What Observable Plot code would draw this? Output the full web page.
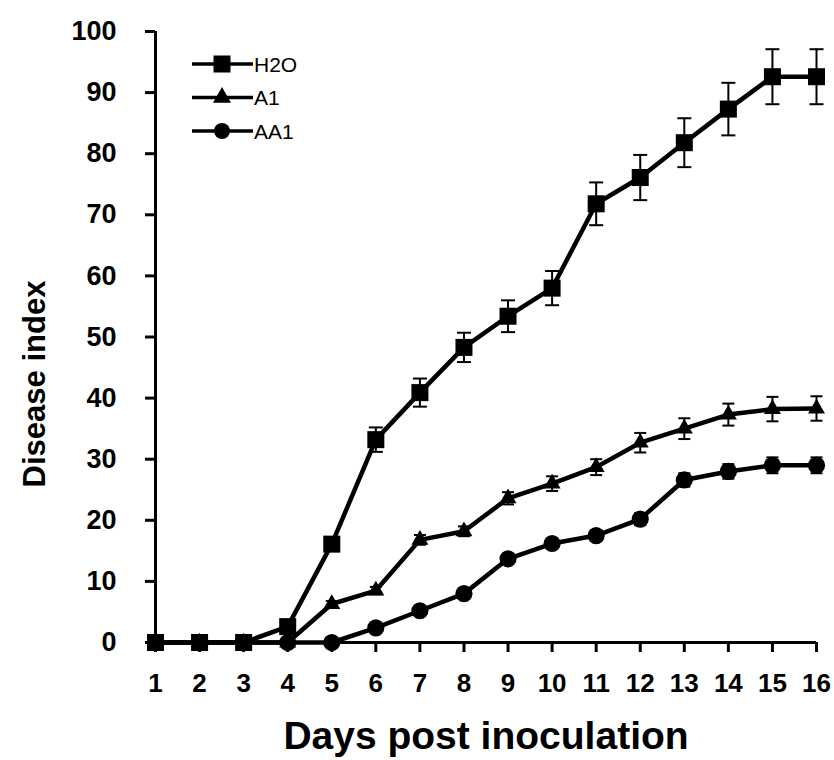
<!DOCTYPE html>
<html>
<head>
<meta charset="utf-8">
<script src="https://cdn.jsdelivr.net/npm/d3@7"></script>
<script src="https://cdn.jsdelivr.net/npm/@observablehq/plot@0.6"></script>
<style>
  html, body { margin: 0; padding: 0; background: #fff; }
  #wrap { position: relative; width: 834px; height: 760px; }
  #wrap svg { font-family: "Liberation Sans", Arial, sans-serif; }
  #legend { position: absolute; left: 0; top: 0; }
</style>
</head>
<body>
<div id="wrap"></div>
<script>
const days = [1,2,3,4,5,6,7,8,9,10,11,12,13,14,15,16];
const seriesNames = ["H2O", "A1", "AA1"];
const h2o    = [0,0,0,2.6,16.1,33.2,40.9,48.3,53.4,58.0,71.8,76.1,81.8,87.3,92.6,92.6];
const h2oErr = [0,0,0,0.5,1.0,2.0,2.3,2.4,2.6,2.8,3.5,3.7,4.0,4.3,4.5,4.5];
const a1     = [0,0,0,0,6.3,8.5,16.8,18.2,23.6,26.0,28.7,32.7,35.0,37.3,38.2,38.3];
const a1Err  = [0,0,0,0,0.5,0.6,0.8,0.8,1.0,1.2,1.3,1.6,1.7,1.8,2.0,2.0];
const aa1    = [0,0,0,0,0,2.4,5.2,8.0,13.7,16.2,17.5,20.2,26.6,28.0,29.0,29.0];
const aa1Err = [0,0,0,0,0,0.4,0.5,0.6,0.8,0.8,0.9,1.0,1.1,1.2,1.3,1.3];
const yTicks = [0,10,20,30,40,50,60,70,80,90,100];
const xTitle = "Days post inoculation";
const yTitle = "Disease index";

const values = [h2o, a1, aa1];
const errors = [h2oErr, a1Err, aa1Err];
const symbols = ["square", "triangle", "circle"];
const radii = [9.6, 6.3, 8.6];
const capHalf = [7, 6, 6];

const rows = [];
seriesNames.forEach((s, k) => days.forEach((d, i) => rows.push({series: s, k, day: d, v: values[k][i], e: errors[k][i]})));
const errRows = rows.filter(r => r.e > 0);

const cap = { draw(ctx, size) { const w = Math.sqrt(size / Math.PI); ctx.moveTo(-w, 0); ctx.lineTo(w, 0); } };

const font = "Liberation Sans, Arial, sans-serif";

const marks = [
  Plot.ruleY([0], {x1: 1, x2: 16, stroke: "black", strokeWidth: 3, insetLeft: -5}),
  Plot.ruleX([1], {y1: 0, y2: 100, stroke: "black", strokeWidth: 3}),
  Plot.axisY({ticks: yTicks, tickSize: 10, tickPadding: 29, strokeWidth: 3, label: null, fontSize: 27, fontWeight: "bold", fill: "black"}),
  Plot.axisX({ticks: days, tickSize: 10, tickPadding: 21, strokeWidth: 3, label: null, fontSize: 26, fontWeight: "bold", fill: "black", tickFormat: d => String(d)}),
  Plot.ruleX(errRows, {x: "day", y1: d => d.v - d.e, y2: d => d.v + d.e, stroke: "black", strokeWidth: 2}),
  ...seriesNames.map((s, k) => Plot.dot(errRows.filter(r => r.k === k), {x: "day", y: d => d.v + d.e, symbol: cap, r: capHalf[k], stroke: "black", strokeWidth: 2, fill: "none"})),
  ...seriesNames.map((s, k) => Plot.dot(errRows.filter(r => r.k === k), {x: "day", y: d => d.v - d.e, symbol: cap, r: capHalf[k], stroke: "black", strokeWidth: 2, fill: "none"})),
  Plot.line(rows, {x: "day", y: "v", z: "series", stroke: "black", strokeWidth: 4.5}),
  ...seriesNames.map((s, k) => Plot.dot(rows.filter(r => r.k === k), {x: "day", y: "v", symbol: symbols[k], r: radii[k], fill: "black", stroke: "none"})),
  Plot.text([xTitle], {frameAnchor: "bottom", dy: 106, fontSize: 39, fontWeight: "bold", fill: "black"}),
  Plot.text([yTitle], {frameAnchor: "left", textAnchor: "middle", rotate: -90, dx: -120, dy: 47, fontSize: 31, fontWeight: "bold", fill: "black"})
];

const chart = Plot.plot({
  width: 834,
  height: 760,
  marginLeft: 155,
  marginRight: 18,
  marginTop: 31,
  marginBottom: 118,
  style: {fontFamily: font, background: "white", color: "black", overflow: "visible"},
  x: {domain: [1, 16], axis: null},
  y: {domain: [0, 100], axis: null},
  marks
});
document.getElementById("wrap").appendChild(chart);

// Legend overlay
const leg = d3.select("#wrap").append("svg").attr("id", "legend").attr("width", 834).attr("height", 760);
const legSym = [d3.symbolSquare, d3.symbolTriangle, d3.symbolCircle];
const legSize = [17 * 17, 140, Math.PI * 8 * 8];
seriesNames.forEach((s, k) => {
  const y = 64 + k * 33.5;
  const g = leg.append("g").attr("transform", `translate(0,${y})`);
  g.append("line").attr("x1", 192).attr("x2", 253).attr("y1", 0).attr("y2", 0).attr("stroke", "black").attr("stroke-width", 3.5);
  g.append("path").attr("d", d3.symbol(legSym[k], legSize[k])()).attr("transform", "translate(222,0)").attr("fill", "black");
  g.append("text").attr("x", 254).attr("y", 0).attr("dy", "0.36em").attr("font-family", font).attr("font-size", 21).attr("fill", "black").text(s);
});
</script>
</body>
</html>
